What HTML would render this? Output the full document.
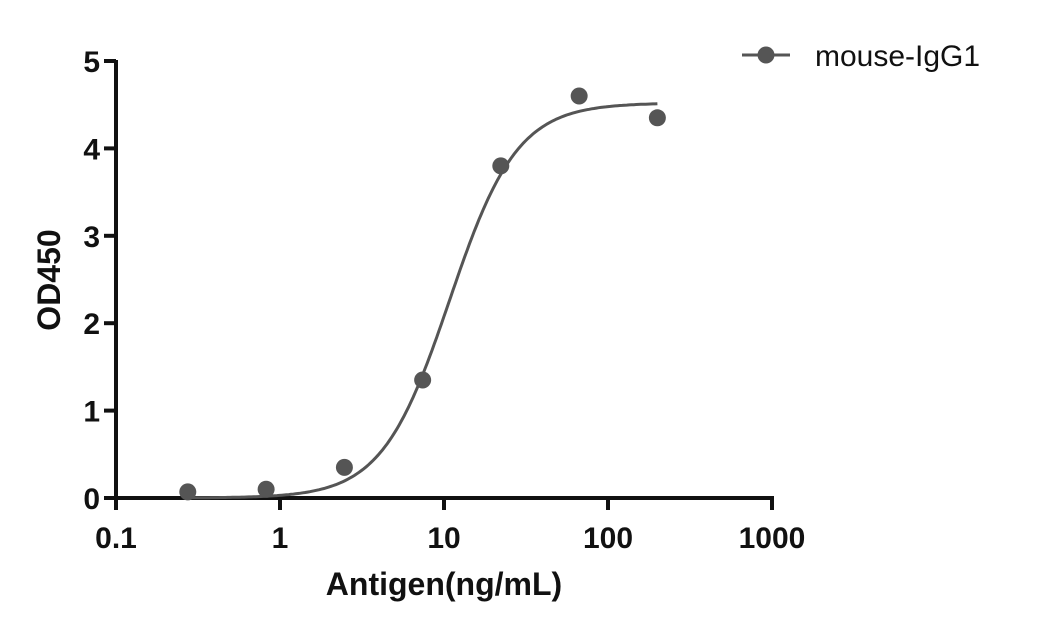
<!DOCTYPE html>
<html><head><meta charset="utf-8"><style>
body{margin:0;background:#fff;width:1041px;height:633px;overflow:hidden}
text{font-family:"Liberation Sans",Arial,sans-serif;font-weight:bold;fill:#111}
</style></head><body>
<svg id="chart" width="1041" height="633" xmlns="http://www.w3.org/2000/svg"></svg>
<script>
const xTicks=[0.1,1,10,100,1000];
const xTickLabels=["0.1","1","10","100","1000"];
const yTicks=[0,1,2,3,4,5];
const yTickLabels=["0","1","2","3","4","5"];
const concentrations=[0.274,0.823,2.47,7.41,22.2,66.7,200];
const od450=[0.07,0.1,0.35,1.35,3.8,4.6,4.35];
const fitParams=[0.0,4.52,10.8,2.1]; // bottom, top, EC50, hill
const NS="http://www.w3.org/2000/svg";
const svg=document.getElementById('chart');
const X0=116,X1=772,Y0=498,Y1=61;
const xs=v=>X0+(Math.log10(v)+1)/4*(X1-X0);
const ys=v=>Y0-v/5*(Y0-Y1);
function mk(t,a,p){const e=document.createElementNS(NS,t);for(const k in a)e.setAttribute(k,a[k]);(p||svg).appendChild(e);return e;}
let e;
e=mk('line',{x1:X0,y1:Y0,x2:X0,y2:Y1-1,stroke:'#111','stroke-width':4});

e=mk('line',{x1:X0-12,y1:Y0,x2:X1+2,y2:Y0,stroke:'#111','stroke-width':4});

yTicks.forEach((v,i)=>{
 e=mk('line',{x1:X0-12,y1:ys(v),x2:X0,y2:ys(v),stroke:'#111','stroke-width':4});
 
 e=mk('text',{x:X0-16,y:ys(v)+11,'text-anchor':'end','font-size':30});e.textContent=yTickLabels[i];
 
});
xTicks.forEach((v,i)=>{
 e=mk('line',{x1:xs(v),y1:Y0,x2:xs(v),y2:Y0+12,stroke:'#111','stroke-width':4});
 
 e=mk('text',{x:xs(v),y:Y0+50,'text-anchor':'middle','font-size':30});e.textContent=xTickLabels[i];
 
});
e=mk('text',{x:444,y:595,'text-anchor':'middle','font-size':32});e.textContent='Antigen(ng/mL)';

e=mk('text',{x:0,y:0,'text-anchor':'middle','font-size':32,transform:'translate(60,280) rotate(-90)'});e.textContent='OD450';

const [b,t,ec,h]=fitParams;
let d='';
const lo=Math.log10(concentrations[0]),hi=Math.log10(concentrations[concentrations.length-1]);
for(let i=0;i<=200;i++){const lx=lo+(hi-lo)*i/200,x=Math.pow(10,lx);const y=b+(t-b)/(1+Math.pow(ec/x,h));d+=(i?'L':'M')+xs(x).toFixed(1)+','+ys(y).toFixed(1);}
e=mk('path',{d:d,fill:'none',stroke:'#555','stroke-width':3});

concentrations.forEach((c,i)=>{
 e=mk('circle',{cx:xs(c),cy:ys(od450[i]),r:8.5,fill:'#555'});
 
});
e=mk('line',{x1:742,y1:55,x2:790,y2:55,stroke:'#555','stroke-width':3});

e=mk('circle',{cx:766,cy:55,r:8.5,fill:'#555'});

e=mk('text',{x:815,y:66,'font-size':30,style:'font-weight:normal'});e.textContent='mouse-IgG1';

</script>
</body></html>
